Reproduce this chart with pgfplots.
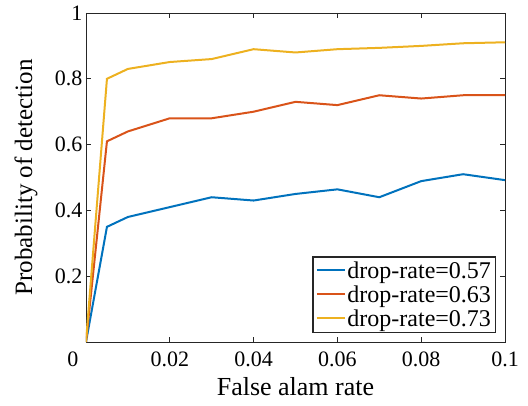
\documentclass[border=0pt]{standalone}
\usepackage{fontspec}
\setmainfont{Liberation Serif}
\usepackage{pgfplots}
\pgfplotsset{compat=1.18}
\definecolor{c1}{rgb}{0,0.447,0.741}
\definecolor{c2}{rgb}{0.85,0.325,0.098}
\definecolor{c3}{rgb}{0.929,0.694,0.125}
\definecolor{axgray}{rgb}{0.15,0.15,0.15}
\begin{document}
\begin{tikzpicture}
\useasboundingbox (-86bp,-64bp) rectangle (442bp,342bp);
\begin{axis}[
  scale only axis, width=419bp, height=329bp,
  at={(0,0)}, anchor=south west,
  xmin=0, xmax=0.1, ymin=0, ymax=1,
  xtick={0.02,0.04,0.06,0.08,0.1}, xticklabels={0.02,0.04,0.06,0.08,0.1},
  extra x ticks={0}, extra x tick labels={0},
  extra x tick style={xticklabel style={xshift=-13bp}},
  ytick={0.2,0.4,0.6,0.8,1}, yticklabels={0.2,0.4,0.6,0.8,1},
  tick align=inside, major tick length=5bp,
  axis line style={color=axgray, line width=0.9bp},
  every tick/.style={color=axgray, line width=0.9bp},
  tick label style={font=\fontsize{22bp}{26bp}\selectfont, text=black},
  xticklabel style={yshift=-6bp},
  /pgf/number format/assume math mode=true,
  xlabel={False alam rate}, ylabel={Probability of detection},
  label style={font=\fontsize{26bp}{30bp}\selectfont},
  xlabel style={at={(axis description cs:0.5,-0.1368)}, anchor=center},
  ylabel style={at={(axis description cs:-0.1432,0.5)}, anchor=center, font=\fontsize{25bp}{29bp}\selectfont},
  legend style={at={(rel axis cs:0.9785,0.0274)}, anchor=south east,
    draw=axgray, line width=1.1bp, font=\fontsize{24bp}{28bp}\selectfont,
    inner sep=3bp, row sep=3bp, nodes={inner sep=1.5bp}},
  legend cell align=left,
  legend image code/.code={\draw[#1, line width=2bp] (0bp,0.4bp) -- (28bp,0.4bp);},
]
\addplot[c1, line width=2bp] coordinates {(0,0) (0.005,0.35) (0.01,0.38) (0.02,0.41) (0.03,0.44) (0.04,0.43) (0.05,0.45) (0.06,0.464) (0.07,0.44) (0.08,0.489) (0.09,0.51) (0.1,0.492)};
\addplot[c2, line width=2bp] coordinates {(0,0) (0.005,0.61) (0.01,0.64) (0.02,0.68) (0.03,0.68) (0.04,0.70) (0.05,0.73) (0.06,0.72) (0.07,0.75) (0.08,0.74) (0.09,0.75) (0.1,0.75)};
\addplot[c3, line width=2bp] coordinates {(0,0) (0.005,0.80) (0.01,0.83) (0.02,0.851) (0.03,0.86) (0.04,0.89) (0.05,0.88) (0.06,0.89) (0.07,0.894) (0.08,0.90) (0.09,0.908) (0.1,0.911)};
\legend{drop-rate=0.57, drop-rate=0.63, drop-rate=0.73}
\end{axis}
\end{tikzpicture}
\end{document}
